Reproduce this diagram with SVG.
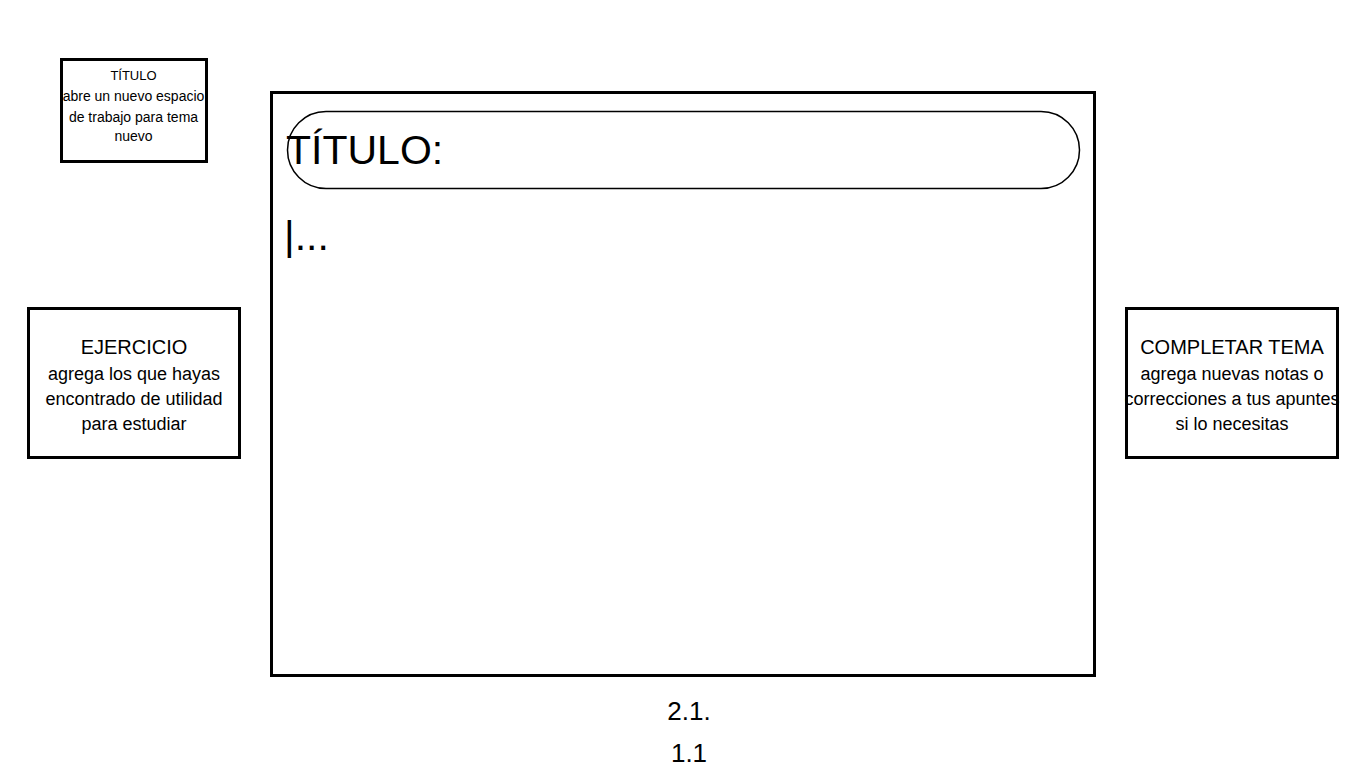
<svg xmlns="http://www.w3.org/2000/svg" width="1366" height="768" viewBox="0 0 1366 768">
<style>
.box{fill:#fff;stroke:#000;stroke-width:3}
.t{font-family:"Liberation Sans",Arial,sans-serif;fill:#000;text-anchor:middle}
.big{font-family:"Liberation Sans",Arial,sans-serif;fill:#000;font-size:41px}
</style>
<rect width="1366" height="768" fill="#fff"/>
<g id="titulo-help">
<rect class="box" x="61.5" y="59.5" width="145" height="102"/>
<text class="t" font-size="13" x="133.5" y="80">TÍTULO</text>
<text class="t" font-size="14" x="133.5" y="101">abre un nuevo espacio</text>
<text class="t" font-size="14" x="133.5" y="122">de trabajo para tema</text>
<text class="t" font-size="14" x="133.5" y="141">nuevo</text>
</g>
<g id="main-panel">
<rect class="box" x="271.5" y="92.5" width="823" height="583"/>
<rect x="287.5" y="111.5" width="792" height="77" rx="38.5" fill="#fff" stroke="#000" stroke-width="1.5"/>
<text class="big" x="286" y="164">TÍTULO:</text>
<text class="big" x="284" y="250">|...</text>
</g>
<g id="ejercicio">
<rect class="box" x="28.5" y="308.5" width="211" height="149"/>
<text class="t" font-size="20" x="134" y="354">EJERCICIO</text>
<text class="t" font-size="18" x="134" y="380">agrega los que hayas</text>
<text class="t" font-size="18" x="134" y="405">encontrado de utilidad</text>
<text class="t" font-size="18" x="134" y="430">para estudiar</text>
</g>
<g id="completar">
<rect class="box" x="1126.5" y="308.5" width="211" height="149"/>
<text class="t" font-size="20" x="1232" y="354">COMPLETAR TEMA</text>
<text class="t" font-size="18" x="1232" y="380">agrega nuevas notas o</text>
<text class="t" font-size="18" x="1232" y="405">correcciones a tus apuntes</text>
<text class="t" font-size="18" x="1232" y="430">si lo necesitas</text>
</g>
<g id="page-label">
<text class="t" font-size="26" x="689" y="720">2.1.</text>
<text class="t" font-size="26" x="689" y="762">1.1</text>
</g>
<g id="connectors"></g>
</svg>
